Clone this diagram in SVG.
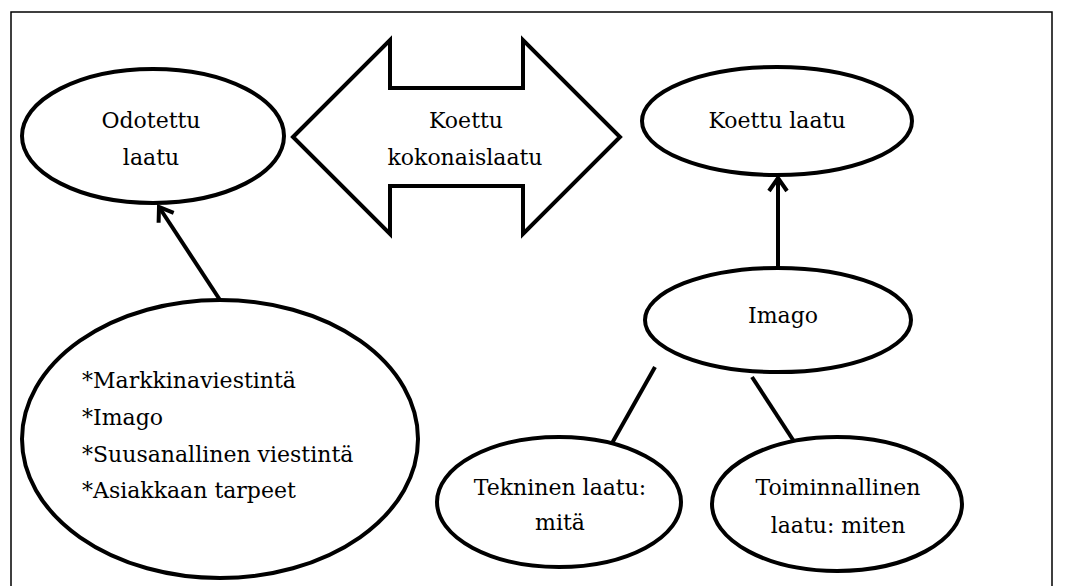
<svg xmlns="http://www.w3.org/2000/svg" width="1065" height="586" viewBox="0 0 1065 586">
  <style>
    .shape { fill: #ffffff; stroke: #000000; stroke-width: 4; }
    .link { stroke: #000000; stroke-width: 4; fill: none; }
    .label { font-family: 'DejaVu Serif', serif; font-size: 22px; fill: #000000; }
    .mid { text-anchor: middle; }
  </style>
  <defs>
    <marker id="open-arrow" viewBox="-16 -12 20 24" markerWidth="20" markerHeight="24" refX="0" refY="0" orient="auto" markerUnits="userSpaceOnUse">
      <path d="M -13 -9 L 0 0 L -13 9" fill="none" stroke="#000000" stroke-width="4" stroke-linejoin="miter"/>
    </marker>
  </defs>

  <rect width="1065" height="586" fill="#ffffff"/>
  <!-- outer frame, open at the bottom -->
  <path d="M 11 600 L 11 12 L 1052 12 L 1052 600" fill="none" stroke="#000000" stroke-width="1.5"/>

  <g id="connectors">
    <line class="link" x1="220" y1="300" x2="159" y2="207" marker-end="url(#open-arrow)"/>
    <line class="link" x1="778" y1="268" x2="778" y2="178" marker-end="url(#open-arrow)"/>
    <line class="link" x1="655" y1="367" x2="611" y2="445"/>
    <line class="link" x1="752" y1="377" x2="797" y2="446"/>
  </g>

  <g id="odotettu-laatu">
    <ellipse class="shape" cx="153" cy="136" rx="131" ry="67"/>
    <text class="label mid" x="151" y="128">Odotettu</text>
    <text class="label mid" x="151" y="165">laatu</text>
  </g>

  <g id="koettu-kokonaislaatu">
    <path class="shape" d="M 293 137 L 390 40 L 390 88 L 523 88 L 523 40 L 620 137 L 523 234 L 523 186 L 390 186 L 390 234 Z" stroke-linejoin="miter"/>
    <text class="label mid" x="466" y="128">Koettu</text>
    <text class="label mid" x="465" y="165">kokonaislaatu</text>
  </g>

  <g id="koettu-laatu">
    <ellipse class="shape" cx="777" cy="121" rx="135" ry="54"/>
    <text class="label mid" x="777" y="128">Koettu laatu</text>
  </g>

  <g id="imago">
    <ellipse class="shape" cx="778" cy="320" rx="133" ry="52"/>
    <text class="label mid" x="783" y="323">Imago</text>
  </g>

  <g id="tekijat">
    <ellipse class="shape" cx="220" cy="439" rx="198" ry="139"/>
    <text class="label" x="82" y="388">*Markkinaviestintä</text>
    <text class="label" x="82" y="425">*Imago</text>
    <text class="label" x="82" y="462">*Suusanallinen viestintä</text>
    <text class="label" x="82" y="498">*Asiakkaan tarpeet</text>
  </g>

  <g id="tekninen-laatu">
    <ellipse class="shape" cx="559" cy="502" rx="122" ry="65"/>
    <text class="label mid" x="560" y="495">Tekninen laatu:</text>
    <text class="label mid" x="560" y="530">mitä</text>
  </g>

  <g id="toiminnallinen-laatu">
    <ellipse class="shape" cx="837" cy="504" rx="125" ry="67"/>
    <text class="label mid" x="838" y="495">Toiminnallinen</text>
    <text class="label mid" x="838" y="533">laatu: miten</text>
  </g>
</svg>
